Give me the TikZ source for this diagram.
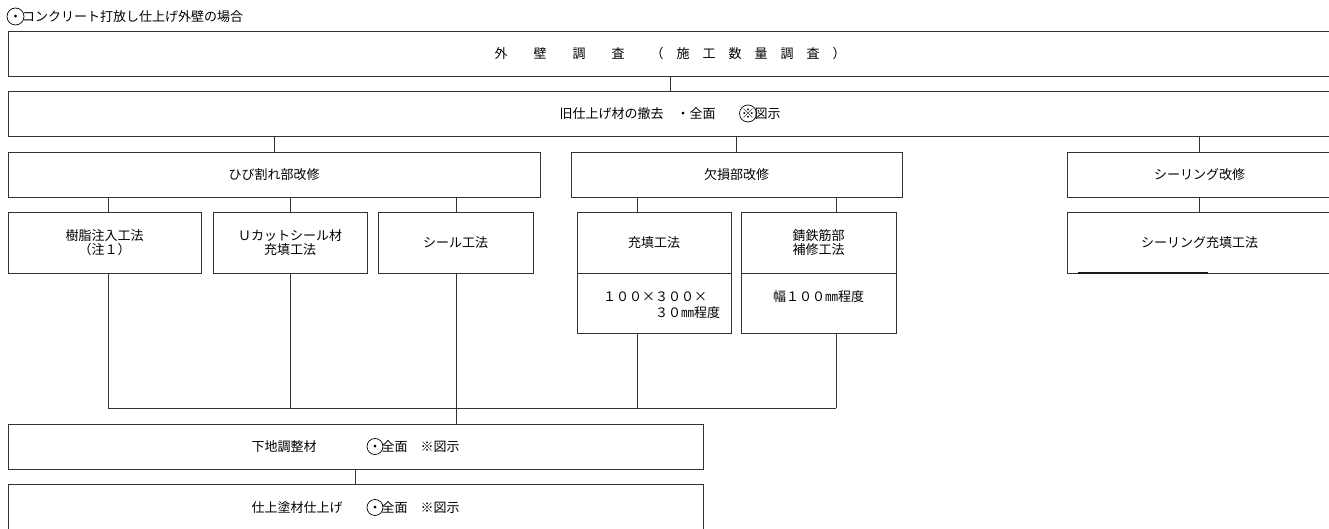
\documentclass[tikz,border=0pt]{standalone}
\usepackage{fontspec}
\setmainfont{Noto Sans CJK JP}
\newcommand\fsz{\fontsize{13}{14.5}\selectfont}
\begin{document}
\begin{tikzpicture}[x=1pt,y=-1pt,
  box/.style={draw=black!80, line width=0.9pt, rectangle, inner sep=0pt, align=center, font=\fsz, text=black},
  txt/.style={inner sep=0pt, font=\fsz, text=black},
  conn/.style={draw=black!80, line width=0.9pt},
  ring/.style={draw=black, line width=0.7pt}]
\useasboundingbox (0,0) rectangle (1329,529);
\clip (0,0) rectangle (1329,529);
% title
\node[txt, anchor=west] (title) at (9,16.5) {・コンクリート打放し仕上げ外壁の場合};
\draw[ring] (15.5,16.5) circle[radius=8.5pt];
% level 1 and 2
\node[box, minimum width=1324pt, minimum height=45pt] (b1) at (670,53.5) {外　　壁　　調　　査　　（　施　工　数　量　調　査　）};
\node[box, minimum width=1324pt, minimum height=45pt] (b2) at (670,113.5) {旧仕上げ材の撤去　・全面　　※図示};
\draw[ring] (748,113.5) circle[radius=8.5pt];
% level 3
\node[box, minimum width=532pt, minimum height=45pt] (hib) at (274,174.5) {ひび割れ部改修};
\node[box, minimum width=331pt, minimum height=45pt] (kes) at (736.5,174.5) {欠損部改修};
\node[box, minimum width=265pt, minimum height=45pt] (sea) at (1199.5,174.5) {シーリング改修};
% level 4
\node[box, minimum width=193pt, minimum height=61pt] (jus) at (104.5,242.5) {樹脂注入工法\\（注１）};
\node[box, minimum width=154pt, minimum height=61pt] (ucut) at (290,242.5) {Ｕカットシール材\\充填工法};
\node[box, minimum width=155pt, minimum height=61pt] (seal) at (455.5,242.5) {シール工法};
\node[box, minimum width=154pt, minimum height=61pt] (juten) at (654,242.5) {充填工法};
\node[box, minimum width=154pt, minimum height=60pt] (juten2) at (654,303) {};
\node[txt, anchor=west, align=left] (juten2t) at (603,304.7) {１００\makebox[1em]{×}３００\makebox[1em]{×}\\[1.5pt]\hspace*{4em}３０㎜程度};
\node[box, minimum width=155pt, minimum height=61pt] (sabi) at (818.5,242.5) {錆鉄筋部\\補修工法};
\node[box, minimum width=155pt, minimum height=60pt] (sabi2) at (818.5,303) {};
\node[txt] (sabi2t) at (818.5,297) {幅１００㎜程度};
\node[box, minimum width=265pt, minimum height=61pt] (seal2) at (1199.5,242.5) {シーリング充填工法};
\draw[line width=1.5pt, black!90] (1078,273) -- (1208,273);
% bottom
\node[box, minimum width=695pt, minimum height=45pt] (shitaji) at (355.5,446.5) {下地調整材　　　　・全面　※図示};
\draw[ring] (375,446.5) circle[radius=8pt];
\node[box, minimum width=695pt, minimum height=47pt] (shiage) at (355.5,507.5) {仕上塗材仕上げ　　・全面　※図示};
\draw[ring] (375,507.5) circle[radius=8pt];
% junction coordinates
\coordinate (v1) at (108,408);
\coordinate (v2) at (290,408);
\coordinate (v3) at (456,408);
\coordinate (v4) at (637,408);
\coordinate (v5) at (836,408);
% connectors
\draw[conn] (b1) -- (b2);
\draw[conn] (b2.south -| hib.north) -- (hib.north);
\draw[conn] (b2.south -| kes.north) -- (kes.north);
\draw[conn] (b2.south -| sea.north) -- (sea.north);
\draw[conn] (hib.south -| v1) -- (jus.north -| v1);
\draw[conn] (hib.south -| v2) -- (ucut.north -| v2);
\draw[conn] (hib.south -| v3) -- (seal.north -| v3);
\draw[conn] (kes.south -| v4) -- (juten.north -| v4);
\draw[conn] (kes.south -| v5) -- (sabi.north -| v5);
\draw[conn] (sea) -- (seal2);
\draw[conn] (jus.south -| v1) -- (v1);
\draw[conn] (ucut.south -| v2) -- (v2);
\draw[conn] (seal.south -| v3) -- (v3);
\draw[conn] (juten2.south -| v4) -- (v4);
\draw[conn] (sabi2.south -| v5) -- (v5);
\draw[conn] (v1) -- (v5);
\draw[conn] (v3) -- (shitaji.north -| v3);
\draw[conn] (shitaji) -- (shiage);
\end{tikzpicture}
\end{document}
